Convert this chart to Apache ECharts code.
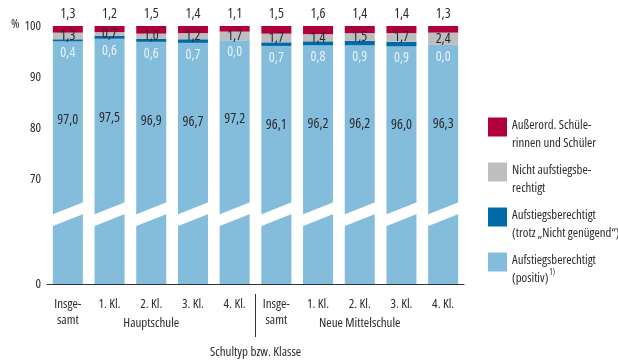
<!DOCTYPE html>
<html><head><meta charset="utf-8">
<script src="https://cdn.jsdelivr.net/npm/echarts@6/dist/echarts.min.js"></script>
<style>html,body{margin:0;padding:0;background:#fff}#c{width:618px;height:364px}</style>
</head><body><div id="c"></div>
<script>
const categories = ['Insge-\nsamt','1. Kl.','2. Kl.','3. Kl.','4. Kl.','Insge-\nsamt','1. Kl.','2. Kl.','3. Kl.','4. Kl.'];
const groups = ['Hauptschule','Neue Mittelschule'];
const positiv = [97.0,97.5,96.9,96.7,97.2,96.1,96.2,96.2,96.0,96.3];
const trotz = [0.4,0.6,0.6,0.7,0.0,0.7,0.8,0.9,0.9,0.0];
const nicht = [1.3,0.7,1.0,1.2,1.7,1.7,1.4,1.5,1.7,2.4];
const ausserord = [1.3,1.2,1.5,1.4,1.1,1.5,1.6,1.4,1.4,1.3];
const yTicks = [0,70,80,90,100];
const breakStart = 12.5, breakEnd = 64.3;
const names = ['Außerord. Schülerinnen und Schüler','Nicht aufstiegsberechtigt','Aufstiegsberechtigt (trotz „Nicht genügend“)','Aufstiegsberechtigt (positiv)'];
const legendText = {
  [names[0]]: 'Außerord. Schüle-\nrinnen und Schüler',
  [names[1]]: 'Nicht aufstiegsbe-\nrechtigt',
  [names[2]]: 'Aufstiegsberechtigt\n(trotz „Nicht genügend“)',
  [names[3]]: 'Aufstiegsberechtigt\n(positiv){sup|1)}'
};
const FONT = '"Open Sans",sans-serif';
const FS = 'condensed';
const TXT = '#2b2b2b';
const fmt = v => v.toFixed(1).replace('.', ',');
const C = {red:'#b0003c', gray:'#bdbec0', dblue:'#006aa6', lblue:'#84bcdc'};
const lbl = (extra) => Object.assign({fontFamily: FONT, fontStyle: FS, fontSize: 14, color: TXT}, extra);

const chart = echarts.init(document.getElementById('c'));
const option = {
  animation: false,
  textStyle: {fontFamily: FONT, fontStyle: FS, color: TXT},
  grid: {left: 47, right: 154, top: 26, bottom: 80},
  legend: {
    orient: 'vertical', left: 483, top: 97, itemWidth: 19, itemHeight: 19, itemGap: -5,
    icon: 'rect', data: names, selectedMode: false,
    formatter: n => legendText[n],
    textStyle: {fontFamily: FONT, fontStyle: FS, fontSize: 12.8, color: TXT, lineHeight: 18, padding: [14,0,0,0],
      rich: {sup: {fontSize: 8, verticalAlign: 'top', lineHeight: 10, padding: [0,0,6,1], fontFamily: FONT, fontStyle: FS, color: TXT}}}
  },
  xAxis: [{
    type: 'category', data: categories, position: 'bottom',
    axisLine: {lineStyle: {color: '#333', width: 1}},
    axisTick: {inside: true, length: 5, lineStyle: {color: '#333'}},
    axisLabel: {fontFamily: FONT, fontStyle: FS, fontSize: 13, color: TXT, lineHeight: 16, margin: 12, interval: 0},
    name: 'Schultyp bzw. Klasse', nameLocation: 'middle', nameGap: 62,
    nameTextStyle: {fontFamily: FONT, fontStyle: FS, fontSize: 13, color: TXT}
  }, {
    type: 'category', data: groups, position: 'bottom', offset: 23,
    axisLine: {show: false}, axisTick: {show: false},
    axisLabel: {fontFamily: FONT, fontStyle: FS, fontSize: 13, color: TXT, lineHeight: 16, margin: 8, interval: 0}
  }],
  yAxis: {
    type: 'value', min: 0, max: 100,
    breaks: [{start: breakStart, end: breakEnd, gap: '4.6%'}],
    breakArea: {show: false},
    axisLine: {show: false}, axisTick: {show: false}, splitLine: {show: false},
    axisLabel: {customValues: yTicks, fontFamily: FONT, fontStyle: FS, fontSize: 13, color: TXT, margin: 6}
  },
  series: [
    {name: names[3], type: 'bar', stack: 's', data: positiv, barCategoryGap: '28%',
      itemStyle: {color: C.lblue},
      label: lbl({show: true, position: 'insideTop', distance: 72, formatter: p => fmt(p.value)})},
    {name: names[2], type: 'bar', stack: 's', data: trotz, itemStyle: {color: C.dblue},
      label: lbl({show: true, position: 'bottom', distance: 5, formatter: p => fmt(p.value), color: '#e8f3fa'})},
    {name: names[1], type: 'bar', stack: 's', data: nicht, itemStyle: {color: C.gray},
      label: lbl({show: true, position: 'inside', formatter: p => fmt(p.value)})},
    {name: names[0], type: 'bar', stack: 's', data: ausserord, itemStyle: {color: C.red},
      label: lbl({show: true, position: 'top', distance: 5, formatter: p => fmt(p.value)})},
    {name: 'break', type: 'custom', data: categories.map((c, i) => [i]), encode: {x: 0}, z: 10,
      silent: true,
      renderItem: (params, api) => {
        const i = api.value(0);
        const top = api.coord([i, breakEnd]);
        const bot = api.coord([i, breakStart]);
        const w = api.size([1, 0])[0] * 0.72 + 2;
        const xl = top[0] - w / 2, xr = top[0] + w / 2;
        const s = w * 0.2;
        return {type: 'polygon', shape: {points: [
          [xl, top[1] + s], [xr, top[1] - s], [xr, bot[1] - s], [xl, bot[1] + s]
        ]}, style: {fill: '#fff'}};
      }}
  ]
};
chart.setOption(option);
const x4 = chart.convertToPixel({xAxisIndex: 0}, 4), x5 = chart.convertToPixel({xAxisIndex: 0}, 5);
const xs = (x4 + x5) / 2;
chart.setOption({graphic: [
  {type: 'line', shape: {x1: xs, y1: 294, x2: xs, y2: 337}, style: {stroke: '#333', lineWidth: 1}},
  {type: 'text', left: 11, top: 18, style: {text: '%', fontFamily: FONT, fontStyle: FS, fontSize: 13, fill: TXT}}
]});
</script></body></html>
